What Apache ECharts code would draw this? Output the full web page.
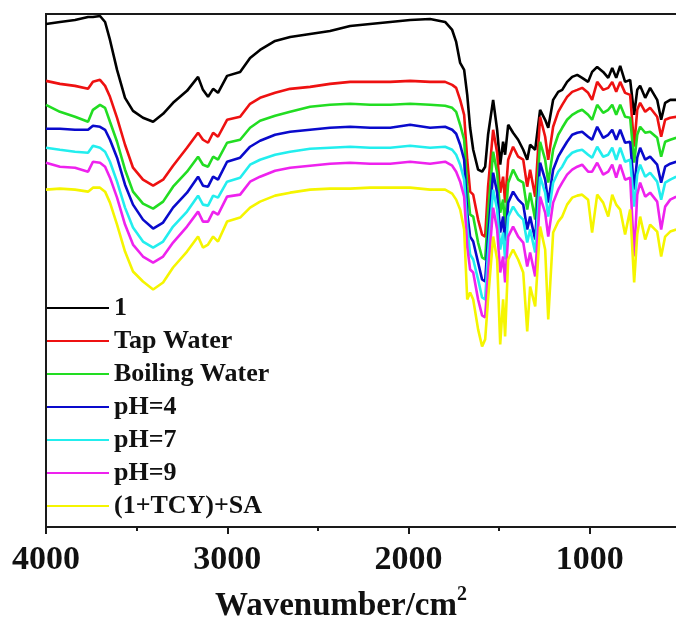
<!DOCTYPE html>
<html>
<head>
<meta charset="utf-8">
<script src="https://cdn.jsdelivr.net/npm/echarts@6/dist/echarts.min.js"></script>
<style>
  html, body { margin: 0; padding: 0; background: #fff; }
  #chart { width: 676px; height: 638px; }
</style>
</head>
<body>
<div id="chart"></div>
<script>
// wavenumber (cm-1) shared by every spectrum
const wavenumbers = [4000, 3923, 3840, 3768, 3741, 3702, 3674, 3647, 3608, 3564, 3520, 3465, 3409, 3354, 3299, 3222, 3161, 3134, 3106, 3078,
    3051, 3001, 2929, 2874, 2819, 2736, 2653, 2543, 2433, 2322, 2212, 2101, 1991, 1881, 1798, 1759, 1737, 1715, 1693, 1676,
    1660, 1643, 1616, 1594, 1577, 1561, 1533, 1511, 1494, 1478, 1467, 1450, 1423, 1395, 1367, 1345, 1329, 1301, 1274, 1246,
    1229, 1202, 1174, 1152, 1125, 1097, 1069, 1042, 1009, 987, 959, 926, 898, 876, 854, 832, 805, 777, 755, 738,
    722, 694, 667, 628, 606, 584, 556, 523];

// transmittance, arbitrary units, curves stacked with an offset
const t1 = [504, 506, 508, 511, 511, 512, 506, 488, 458, 430, 417, 410, 406, 414, 425, 437, 451, 438, 431, 439,
    435, 452, 456, 470, 478, 487, 491, 494, 497, 502, 504, 506, 508, 509, 506, 498, 486, 465, 458, 433,
    400, 378, 358, 356, 361, 393, 428, 398, 363, 386, 373, 403, 395, 388, 378, 368, 383, 378, 418, 408,
    400, 428, 436, 438, 446, 451, 453, 450, 446, 456, 461, 456, 450, 460, 450, 462, 446, 448, 413, 438,
    442, 430, 440, 428, 408, 425, 428, 428];
const tapWater = [447, 444, 442, 439, 446, 448, 442, 431, 410, 383, 360, 348, 342, 348, 362, 380, 395, 388, 385, 395,
    391, 408, 411, 424, 430, 435, 439, 441, 444, 446, 446, 446, 447, 446, 446, 443, 440, 428, 413, 368,
    336, 333, 308, 293, 291, 341, 398, 375, 335, 351, 325, 368, 381, 371, 368, 341, 358, 331, 411, 391,
    368, 401, 416, 423, 431, 436, 438, 440, 435, 428, 446, 438, 440, 446, 436, 446, 435, 433, 381, 418,
    425, 416, 420, 411, 391, 408, 410, 411];
const boilingWater = [423, 416, 411, 406, 418, 423, 420, 406, 386, 358, 336, 324, 319, 326, 341, 356, 371, 363, 361, 371,
    368, 385, 388, 400, 407, 412, 416, 421, 423, 424, 423, 423, 424, 423, 422, 420, 416, 403, 388, 341,
    313, 311, 285, 270, 268, 315, 376, 355, 315, 328, 301, 345, 358, 348, 345, 318, 335, 308, 386, 368,
    345, 378, 393, 400, 408, 413, 416, 418, 413, 408, 423, 415, 418, 423, 413, 423, 411, 410, 365, 393,
    401, 395, 396, 390, 371, 386, 388, 390];
const ph4 = [399, 399, 398, 398, 402, 401, 398, 388, 370, 343, 323, 308, 299, 305, 320, 335, 351, 342, 341, 351,
    348, 366, 370, 381, 387, 393, 396, 398, 400, 401, 400, 400, 403, 400, 401, 398, 394, 383, 368, 315,
    291, 286, 265, 248, 246, 291, 355, 335, 295, 311, 281, 325, 336, 328, 323, 298, 311, 288, 365, 348,
    325, 358, 371, 378, 386, 393, 395, 396, 391, 388, 401, 390, 393, 398, 388, 398, 385, 386, 338, 370,
    380, 368, 371, 363, 345, 361, 364, 366];
const ph7 = [380, 378, 376, 375, 382, 380, 376, 366, 346, 320, 300, 286, 280, 286, 301, 316, 332, 323, 322, 332,
    330, 346, 350, 363, 368, 373, 376, 379, 380, 381, 380, 380, 382, 380, 381, 378, 373, 363, 348, 301,
    273, 268, 248, 230, 228, 275, 338, 318, 278, 295, 268, 311, 321, 313, 308, 285, 298, 275, 351, 335,
    311, 345, 356, 361, 370, 375, 377, 378, 373, 370, 381, 371, 373, 380, 368, 380, 366, 368, 321, 353,
    363, 351, 355, 346, 328, 345, 348, 351];
const ph9 = [365, 361, 360, 356, 366, 365, 361, 350, 330, 303, 283, 271, 265, 271, 285, 301, 316, 306, 306, 316,
    313, 331, 333, 346, 351, 357, 360, 362, 364, 365, 364, 364, 366, 364, 366, 362, 356, 346, 331, 281,
    258, 255, 228, 212, 210, 255, 320, 298, 255, 271, 245, 291, 301, 291, 285, 261, 275, 251, 331, 315,
    291, 325, 338, 345, 353, 358, 361, 363, 356, 356, 365, 353, 356, 363, 350, 363, 348, 350, 271, 333,
    345, 331, 335, 326, 298, 321, 328, 331];
const tcySa = [338, 339, 338, 336, 340, 340, 336, 325, 303, 276, 256, 246, 238, 245, 260, 276, 291, 280, 283, 291,
    286, 306, 310, 320, 326, 332, 335, 338, 339, 339, 340, 340, 340, 338, 338, 334, 328, 318, 298, 228,
    235, 228, 198, 181, 188, 228, 291, 268, 183, 228, 191, 268, 278, 268, 255, 196, 241, 221, 301, 278,
    208, 295, 306, 311, 323, 330, 332, 333, 328, 295, 333, 325, 311, 333, 323, 318, 293, 318, 245, 293,
    311, 288, 303, 296, 271, 291, 296, 298];

const seriesNames = ['1', 'Tap Water', 'Boiling Water', 'pH=4', 'pH=7', 'pH=9', '(1+TCY)+SA'];
const seriesColors = ['#000000', '#ee1111', '#22dd22', '#0a0acc', '#22eeee', '#ee22ee', '#f5f500'];
const seriesValues = [t1, tapWater, boilingWater, ph4, ph7, ph9, tcySa];

const serifFont = '"Liberation Serif", "Times New Roman", serif';

const chart = echarts.init(document.getElementById('chart'));

const option = {
    animation: false,
    backgroundColor: '#ffffff',
    grid: {
        left: 46,
        right: -95,   // plot is cut at ~520 cm-1 in the original
        top: 14,
        bottom: 111,
        outerBoundsMode: 'none',
        containLabel: false,
        show: true,
        borderColor: '#1a1a1a',
        borderWidth: 2
    },
    legend: {
        orient: 'vertical',
        left: 47,
        top: 295,
        padding: 0,
        icon: 'rect',
        itemWidth: 62,
        itemHeight: 2,
        itemGap: 7,
        data: seriesNames,
        textStyle: {
            fontFamily: serifFont,
            fontWeight: 'bold',
            fontSize: 26,
            color: '#111'
        }
    },
    xAxis: {
        type: 'value',
        inverse: true,
        min: 0,
        max: 4000,
        interval: 1000,
        axisLine: {lineStyle: {color: '#1a1a1a', width: 2}},
        axisTick: {show: true, length: 7, lineStyle: {width: 2, color: '#1a1a1a'}},
        minorTick: {show: true, splitNumber: 2, length: 4, lineStyle: {width: 2, color: '#1a1a1a'}},
        splitLine: {show: false},
        axisLabel: {
            margin: 16,
            formatter: (v) => String(v),
            fontFamily: serifFont,
            fontWeight: 'bold',
            fontSize: 34,
            color: '#111'
        }
    },
    yAxis: {
        type: 'value',
        min: 0,
        max: 514,
        axisLine: {show: true, lineStyle: {color: '#1a1a1a', width: 2}},
        axisTick: {show: false},
        axisLabel: {show: false},
        splitLine: {show: false}
    },
    graphic: [{
        type: 'text',
        left: 215,
        top: 585,
        style: {
            text: '{a|Wavenumber/cm}{s|2}',
            rich: {
                a: {fontFamily: serifFont, fontWeight: 'bold', fontSize: 33, lineHeight: 38, verticalAlign: 'bottom', fill: '#111'},
                s: {fontFamily: serifFont, fontWeight: 'bold', fontSize: 20, lineHeight: 38, verticalAlign: 'top', fill: '#111'}
            }
        }
    }],
    series: seriesNames.map((name, i) => ({
        name: name,
        type: 'line',
        showSymbol: false,
        symbol: 'none',
        lineStyle: {width: 2.6, color: seriesColors[i]},
        itemStyle: {color: seriesColors[i]},
        data: wavenumbers.map((w, k) => [w, seriesValues[i][k]])
    }))
};

chart.setOption(option);
</script>
</body>
</html>
